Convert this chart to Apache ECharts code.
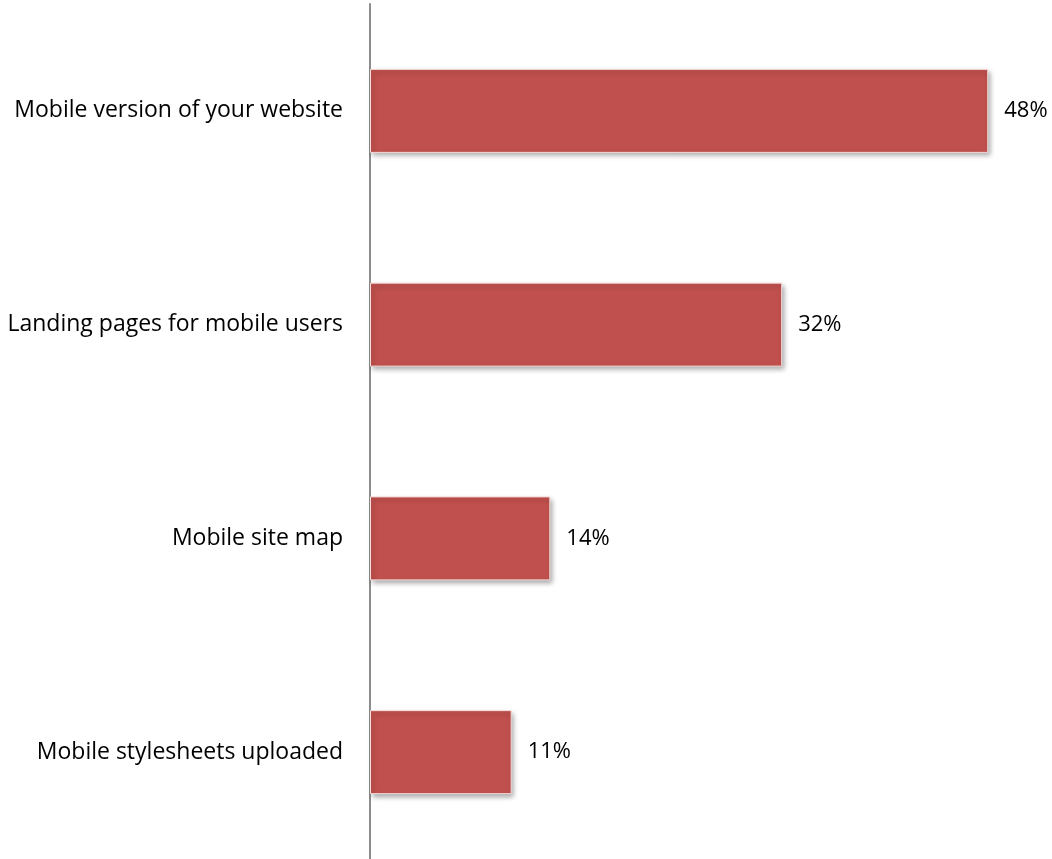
<!DOCTYPE html>
<html>
<head>
<meta charset="utf-8">
<script src="https://cdn.jsdelivr.net/npm/echarts@6/dist/echarts.min.js"></script>
<style>
  html, body { margin: 0; padding: 0; background: #fff; }
  #chart { width: 1052px; height: 859px; }
</style>
</head>
<body>
<div id="chart"></div>
<script>
// categories listed bottom to top (category axis runs upward)
const categories = [
    'Mobile stylesheets uploaded',
    'Mobile site map',
    'Landing pages for mobile users',
    'Mobile version of your website'
];
const percentValues = [11, 14, 32, 48];

const myChart = echarts.init(document.getElementById('chart'));

const option = {
    animation: false,
    grid: { left: 370, right: 38, top: 4, bottom: -1, containLabel: false },
    xAxis: {
        type: 'value',
        min: 0,
        max: 50,
        show: false
    },
    yAxis: {
        type: 'category',
        data: categories,
        axisLine: { show: true, lineStyle: { color: '#8c8c8c', width: 2 } },
        axisTick: { show: false },
        axisLabel: {
            margin: 27,
            color: '#000',
            fontSize: 23,
            fontFamily: 'Open Sans'
        }
    },
    series: [
        {
            type: 'bar',
            data: percentValues,
            barWidth: 84,
            itemStyle: {
                color: '#c0504d',
                borderColor: '#f4dcdb',
                borderWidth: 1,
                shadowColor: 'rgba(0,0,0,0.35)',
                shadowBlur: 5,
                shadowOffsetX: 2,
                shadowOffsetY: 3
            },
            label: {
                show: true,
                position: 'right',
                distance: 16,
                formatter: '{c}%',
                color: '#000',
                fontSize: 22,
                fontFamily: 'Open Sans'
            }
        }
    ]
};
myChart.setOption(option);
</script>
</body>
</html>
